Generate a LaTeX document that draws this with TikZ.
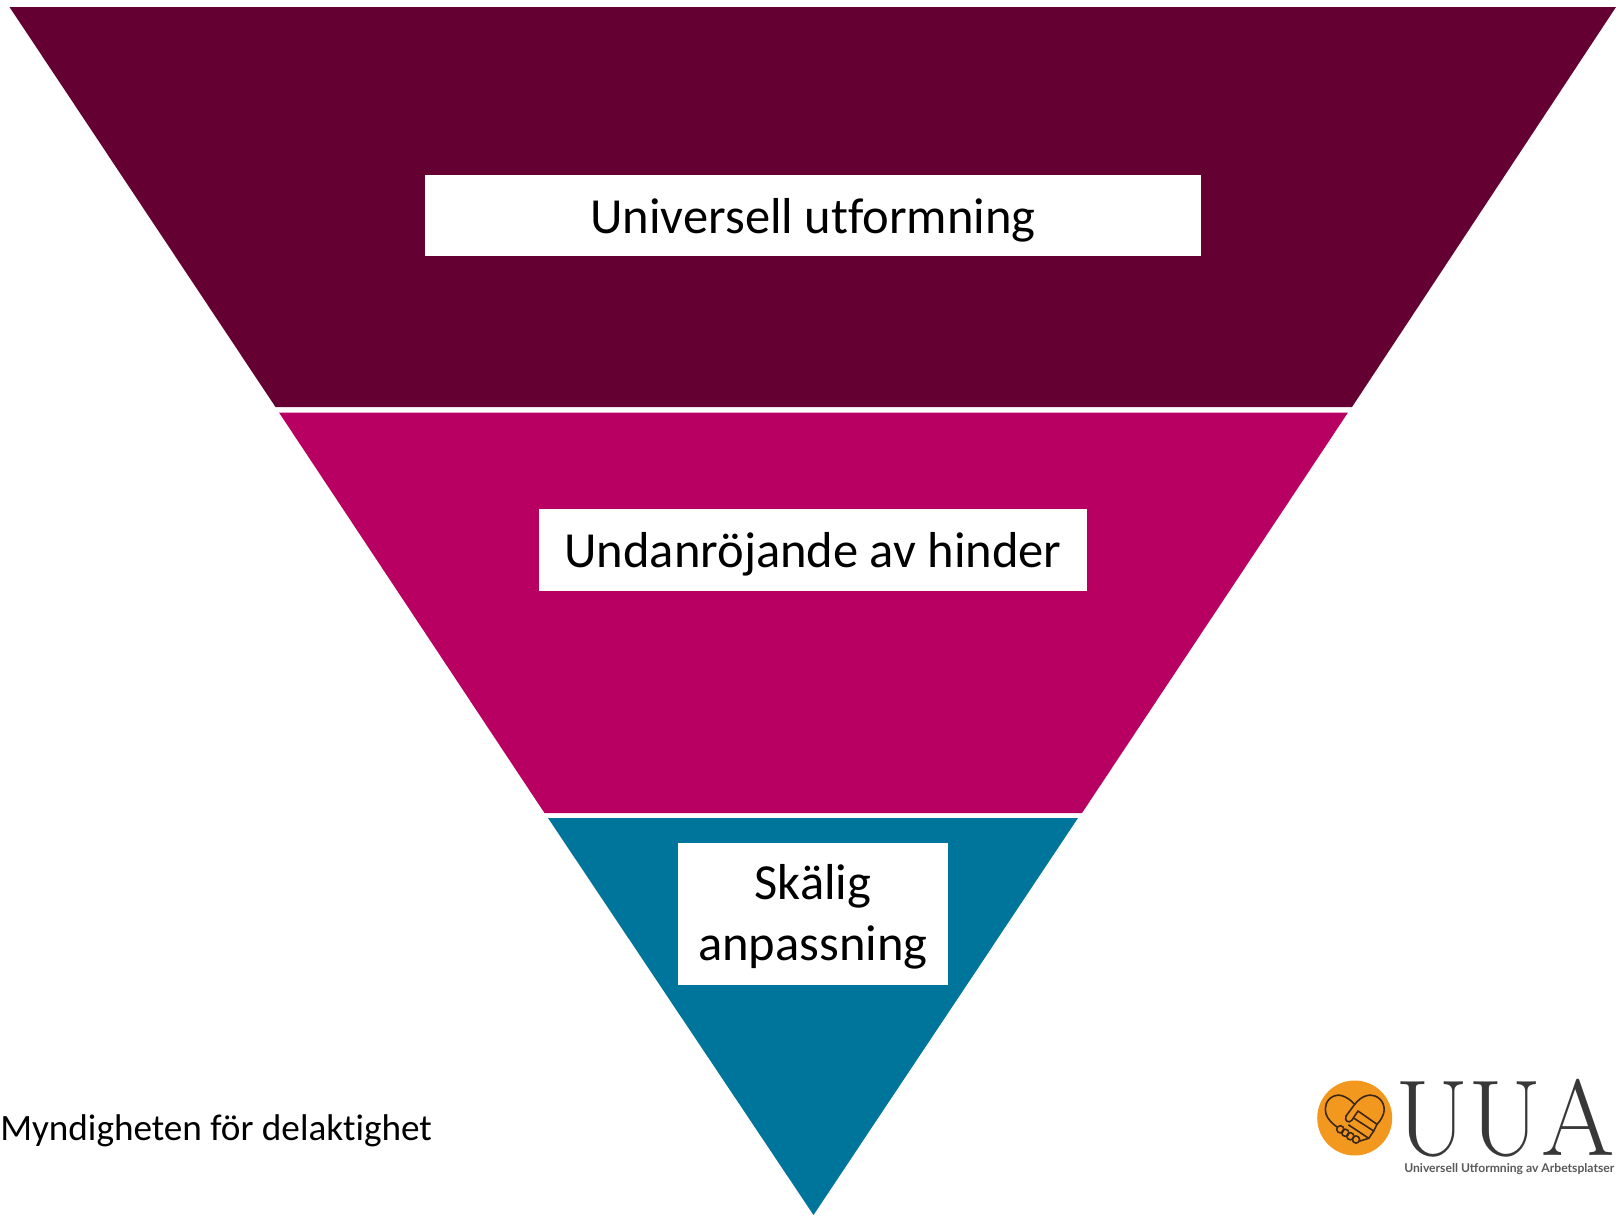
\documentclass[tikz,border=0pt]{standalone}
\usepackage{fontspec}
\usepackage{graphicx}
\usepackage{xcolor}
\newfontfamily\bodyfont[Ligatures=NoCommon]{Carlito}
\newfontfamily\logofont{Lato}
\definecolor{plum}{RGB}{101,0,51}
\definecolor{berry}{RGB}{184,0,98}
\definecolor{petrol}{RGB}{0,117,156}
\definecolor{amber}{RGB}{243,152,30}
\definecolor{inkbrown}{RGB}{60,40,25}
\tikzset{
  labelbox/.style={fill=white,inner sep=0pt,align=center,font=\bodyfont\fontsize{37.9}{45.5}\selectfont},
  handline/.style={draw=inkbrown,line width=1.2,line join=round,line cap=round}
}
\begin{document}
\begin{tikzpicture}[x=0.75pt,y=0.75pt,yscale=-1,xscale=1]
\path[use as bounding box] (0,0) rectangle (1619,1215);
%Shape: Trapezoid top
\fill [plum] (9.5,7) -- (1616,7) -- (1352,407) -- (275.5,407) -- cycle ;
%Shape: Trapezoid middle
\fill [berry] (279,412.5) -- (1348,412.5) -- (1082,813) -- (544.5,813) -- cycle ;
%Shape: Triangle bottom
\fill [petrol] (548,818) -- (1078,818) -- (813.5,1215) -- cycle ;

% Text Node
\node (universell) [labelbox,text depth=0pt,minimum width=582pt,minimum height=61pt] at (813,215.5) {Universell utformning};
% Text Node
\node (undanrojande) [labelbox,text depth=0pt,minimum width=411pt,minimum height=61pt] at (813,550) {Undanröjande av hinder};
% Text Node
\node (skalig) [labelbox,text depth=2pt,minimum width=202.5pt,minimum height=107pt] at (813,914) {Skälig\\anpassning};
% Text Node
\node (myndigheten) [anchor=west,inner sep=0pt,font=\bodyfont\fontsize{27.9}{30}\selectfont] at (0,1131) {Myndigheten för delaktighet};

%Logo circle
\fill [amber] (1354.7,1118) circle [radius=37.5];
%Logo heart with hands
\draw [handline] (1354.7,1104.3) .. controls (1346,1095) and (1338,1094) .. (1334,1096) .. controls (1326,1099) and (1324,1108) .. (1326,1114) .. controls (1328,1120) and (1333,1124) .. (1337,1127) ;
\draw [handline] (1354.7,1104.3) .. controls (1362,1095) and (1370,1094) .. (1375,1096) .. controls (1383,1099) and (1386,1108) .. (1383,1115) .. controls (1381,1120) and (1379,1122) .. (1377,1124.3) ;
\draw [handline] (1354.7,1104.3) -- (1346,1116) .. controls (1344,1121) and (1349,1124) .. (1352,1120) -- (1358,1111) -- (1377,1124.3) -- (1373.7,1131) -- (1368.7,1138.3) ;
\draw [handline] (1354,1118.3) -- (1373.7,1131) ;
\draw [handline] (1348.7,1125) -- (1368.7,1138.3) ;
\draw [handline] (1368.7,1138.3) -- (1360,1141) ;
\foreach \hx/\hy in {1340.3/1129.3,1345.3/1132.8,1350.3/1136.2,1356/1139.5} {
  \draw [handline] (\hx,\hy) circle [radius=3.6];
}
% Text Node
\node (uua) [anchor=base west,inner sep=0pt,font=\fontsize{81}{81}\selectfont,text=black!78] at (1395,1155) {\scalebox{0.98}[1]{UUA}};
% Text Node
\node (uuacaption) [anchor=base west,inner sep=0pt,font=\logofont\bfseries\fontsize{9.1}{10}\selectfont,text=black!65] at (1404,1172) {Universell Utformning av Arbetsplatser};
\end{tikzpicture}
\end{document}
